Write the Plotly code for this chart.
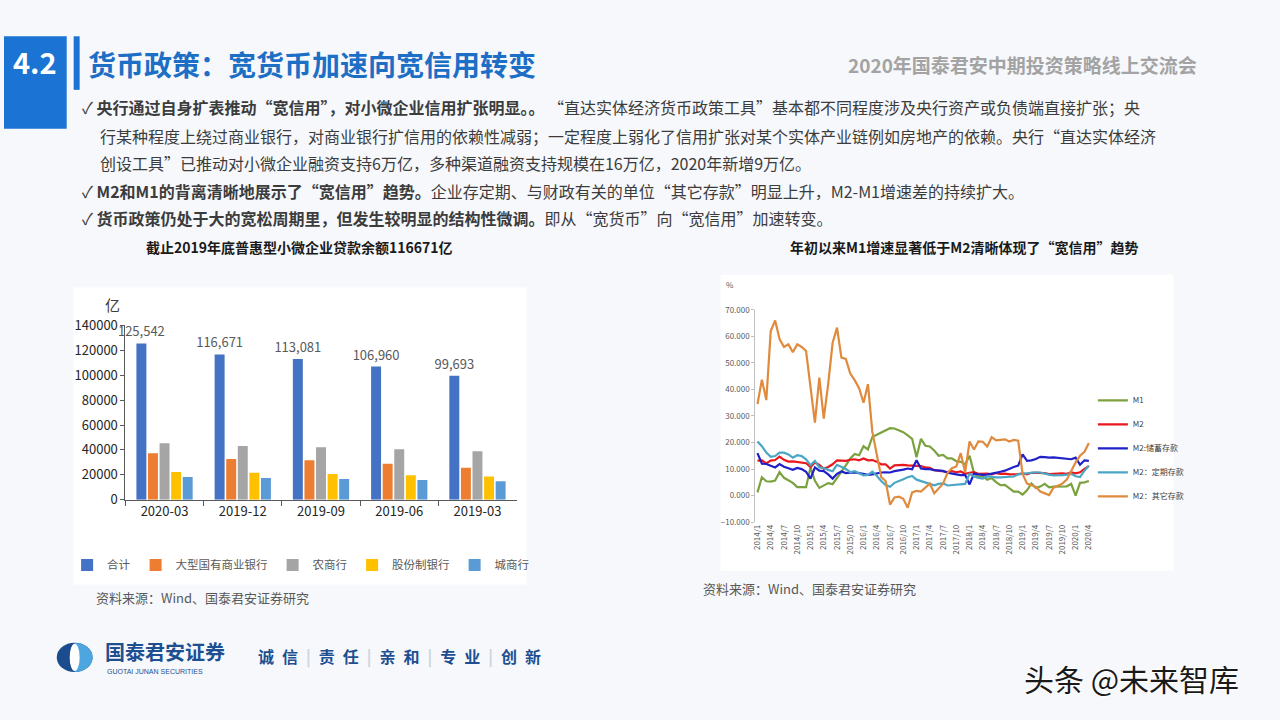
import math
import plotly.graph_objects as go

W, H = 1280, 720
def fx(x): return x / W
def fy(y): return 1 - y / H

CJK = "Noto Sans CJK SC, Microsoft YaHei, sans-serif"

# ---------------- left chart data ----------------
periods = ["2020-03", "2019-12", "2019-09", "2019-06", "2019-03"]
bank_names = ["合计", "大型国有商业银行", "农商行", "股份制银行", "城商行"]
loan_total = [125542, 116671, 113081, 106960, 99693]
loan_big_state = [37400, 32700, 31700, 29000, 25600]
loan_rural = [45300, 43200, 42100, 40600, 39000]
loan_joint_stock = [22300, 21700, 20700, 19600, 18600]
loan_city = [18300, 17500, 16700, 15900, 14900]
bank_colors = ["#4472C4", "#ED7D31", "#A5A5A5", "#FFC000", "#5B9BD5"]

# ---------------- right chart data (2014/1 - 2020/4, %) ----------------
months = [f"{y}/{m}" for y in range(2014, 2021) for m in range(1, 13)][:76]
month_ticks = months[::3]
m1 = [1.2, 6.9, 5.4, 5.3, 5.7, 8.9, 6.7, 5.7, 4.8, 3.2, 3.2, 3.2,
      10.6, 5.6, 2.9, 3.7, 4.7, 4.3, 6.6, 9.3, 11.4, 14.0, 15.7, 15.2,
      18.6, 17.4, 22.1, 22.9, 23.7, 24.6, 25.4, 25.3, 24.7, 23.9, 22.7, 21.4,
      14.5, 21.4, 18.8, 18.5, 17.0, 15.0, 15.3, 14.0, 14.0, 13.0, 12.7, 11.8,
      15.0, 8.5, 7.1, 7.2, 6.0, 6.6, 5.1, 3.9, 4.0, 2.7, 1.5, 1.5,
      0.4, 2.0, 4.6, 2.9, 3.4, 4.4, 3.1, 3.4, 3.4, 3.3, 3.5, 4.4,
      0.0, 4.8, 5.0, 5.5]
m2 = [13.2, 13.3, 12.1, 13.2, 13.4, 14.7, 13.5, 12.8, 12.9, 12.6, 12.3, 12.2,
      10.8, 12.5, 11.6, 10.1, 10.8, 11.8, 13.3, 13.3, 13.1, 13.5, 13.7, 13.3,
      14.0, 13.3, 13.4, 12.8, 11.8, 11.8, 10.2, 11.4, 11.5, 11.6, 11.4, 11.3,
      11.3, 11.1, 10.6, 10.5, 9.6, 9.4, 9.2, 8.9, 9.2, 8.8, 9.1, 8.2,
      8.6, 8.8, 8.2, 8.3, 8.3, 8.0, 8.5, 8.2, 8.3, 8.0, 8.0, 8.1,
      8.4, 8.0, 8.6, 8.5, 8.5, 8.5, 8.1, 8.2, 8.4, 8.4, 8.2, 8.7,
      8.4, 8.8, 10.1, 11.1]
m2_savings = [16.0, 12.0, 11.9, 11.3, 10.6, 11.9, 10.9, 10.3, 9.7, 10.4, 10.0, 9.0,
              6.4, 10.6, 9.4, 9.2, 8.0, 6.4, 8.2, 9.1, 8.5, 8.6, 8.7, 8.5,
              8.2, 7.8, 8.0, 8.4, 8.7, 8.8, 8.7, 9.2, 9.4, 9.8, 10.2, 9.9,
              13.3, 10.2, 10.0, 10.0, 9.6, 9.4, 9.3, 8.6, 8.4, 8.0, 7.7, 7.8,
              4.2, 8.3, 8.0, 7.8, 7.9, 8.2, 8.5, 9.0, 9.4, 10.2, 10.8, 11.3,
              15.5, 13.1, 13.3, 13.8, 14.6, 14.5, 14.3, 14.4, 14.2, 14.0, 13.9, 13.7,
              14.3, 11.6, 13.3, 13.1]
m2_time = [20.4, 18.6, 16.2, 14.6, 14.9, 16.2, 16.2, 15.5, 14.3, 15.2, 14.9, 13.7,
           11.5, 13.1, 10.6, 10.4, 9.7, 9.2, 11.6, 10.9, 10.0, 8.8, 9.2, 8.4,
           7.6, 7.8, 9.0, 7.5, 5.5, 4.0, 3.3, 4.8, 5.4, 6.2, 6.9, 7.4,
           6.0, 5.4, 5.0, 4.4, 3.9, 4.4, 4.6, 3.8, 3.9, 4.0, 4.2, 4.4,
           8.2, 7.2, 6.7, 6.4, 7.2, 7.0, 6.9, 6.9, 7.0, 7.0, 7.2, 8.0,
           8.2, 8.4, 8.6, 8.8, 8.7, 8.2, 7.9, 7.6, 7.6, 7.7, 7.9, 8.2,
           7.3, 7.0, 9.4, 11.3]
m2_other = [34.5, 43.7, 36.0, 62.0, 66.0, 59.0, 56.0, 57.0, 54.0, 57.0, 56.0, 54.5,
            41.0, 27.5, 44.5, 29.0, 42.0, 57.5, 63.3, 52.0, 51.5, 46.0, 43.5, 40.5,
            35.0, 42.0, 24.0, 16.0, 7.0, 5.5, -3.4, -0.7, -0.4, -1.2, -4.6, 1.2,
            1.8, 1.5, 3.0, 4.5, 0.9, 2.5, 4.5, 8.5, 10.3, 11.0, 16.0, 8.8,
            20.4, 17.4, 20.4, 20.3, 18.5, 22.0, 20.8, 21.0, 21.2, 20.4, 21.0, 20.7,
            8.2, 4.5, 3.8, 3.3, 1.5, 0.8, 0.2, 3.0, 3.8, 4.5, 6.0, 9.4,
            12.5, 15.0, 16.5, 19.8]
series_names = ["M1", "M2", "M2:储蓄存款", "M2：定期存款", "M2：其它存款"]
series_colors = ["#7BA23F", "#E8181C", "#2020C8", "#4AA6C4", "#DF8A3D"]

fig = go.Figure()

# ---- left bars ----
for name, vals, col in zip(bank_names,
                           [loan_total, loan_big_state, loan_rural, loan_joint_stock, loan_city],
                           bank_colors):
    fig.add_trace(go.Bar(
        x=periods, y=vals, name=name, marker=dict(color=col, line=dict(width=0)),
        xaxis="x", yaxis="y", legend="legend",
        texttemplate="%{y:,}" if name == "合计" else None,
        textposition="outside" if name == "合计" else "none",
        textfont=dict(size=13, color="#595959", family=CJK),
        constraintext="none", cliponaxis=False, hoverinfo="x+y+name"))

# ---- right lines ----
for name, vals, col in zip(series_names, [m1, m2, m2_savings, m2_time, m2_other], series_colors):
    fig.add_trace(go.Scatter(
        x=months, y=vals, name=name, mode="lines",
        line=dict(color=col, width=2.2), xaxis="x2", yaxis="y2",
        legend="legend2", legendgroup=name))

# ---------------- shapes ----------------
shapes = []
def rect(x0, y0, x1, y1, color, layer="below", line=None):
    shapes.append(dict(type="rect", xref="paper", yref="paper",
                       x0=fx(x0), x1=fx(x1), y0=fy(y1), y1=fy(y0),
                       fillcolor=color, line=dict(width=0) if line is None else line,
                       layer=layer))

rect(70, 285, 525, 590, "#ffffff")
rect(720, 272, 1175, 576, "#ffffff")
rect(0, 27, 63, 122, "#1B74D3")
rect(70, 27, 76, 82, "#1B74D3")

# logo
cx, cy, rx, ry = 71, 665, 18, 15
shapes.append(dict(type="circle", xref="paper", yref="paper",
                   x0=fx(cx - rx), x1=fx(cx + rx), y0=fy(cy + ry), y1=fy(cy - ry),
                   fillcolor="#1B4C8E", line=dict(width=0), layer="above"))
pts = []
for k in range(0, 31):
    a = -math.pi / 2 + math.pi * k / 30
    pts.append((cx + rx * math.cos(a), cy + ry * math.sin(a)))
path = "M " + " L ".join(f"{fx(px_):.5f},{fy(py_):.5f}" for px_, py_ in pts) + " Z"
shapes.append(dict(type="path", xref="paper", yref="paper", path=path,
                   fillcolor="#4DA6E0", line=dict(width=0), layer="above"))
shapes.append(dict(type="circle", xref="paper", yref="paper",
                   x0=fx(cx - 5), x1=fx(cx + 5), y0=fy(cy + 14), y1=fy(cy - 14),
                   fillcolor="#ffffff", line=dict(width=0), layer="above"))

# ---------------- annotations ----------------
ann = []
def text(x, y, s, size, color="#404040", xanchor="left", yanchor="middle", family=CJK, **kw):
    d = dict(xref="paper", yref="paper", x=fx(x), y=fy(y), text=s, showarrow=False,
             xanchor=xanchor, yanchor=yanchor,
             font=dict(size=size, color=color, family=family))
    d["font"].update(kw.pop("font_extra", {}))
    d.update(kw)
    ann.append(d)

text(31, 52, "<b>4.2</b>", 29, "#ffffff", xanchor="center")
text(82, 55, "<b>货币政策：宽货币加速向宽信用转变</b>", 28, "#1D6FC6")
text(1201, 56, "<b>2020年国泰君安中期投资策略线上交流会</b>", 19, "#A3A3A3", xanchor="right")

bullets = [
    (76, 100, "✓ <b>央行通过自身扩表推动“宽信用”，对小微企业信用扩张明显。。</b> “直达实体经济货币政策工具”基本都不同程度涉及央行资产或负债端直接扩张；央"),
    (94, 129, "行某种程度上绕过商业银行，对商业银行扩信用的依赖性减弱；一定程度上弱化了信用扩张对某个实体产业链例如房地产的依赖。央行“直达实体经济"),
    (94, 157, "创设工具”已推动对小微企业融资支持6万亿，多种渠道融资支持规模在16万亿，2020年新增9万亿。"),
    (76, 186, "✓ <b>M2和M1的背离清晰地展示了“宽信用”趋势。</b>企业存定期、与财政有关的单位“其它存款”明显上升，M2-M1增速差的持续扩大。"),
    (76, 214, "✓ <b>货币政策仍处于大的宽松周期里，但发生较明显的结构性微调。</b>即从“宽货币”向“宽信用”加速转变。"),
]
for x, y, s in bullets:
    text(x, y, s, 16, "#3C3C3C")

text(297, 243, "<b>截止2019年底普惠型小微企业贷款余额116671亿</b>", 14, "#1a1a1a", xanchor="center")
text(965, 243, "<b>年初以来M1增速显著低于M2清晰体现了“宽信用”趋势</b>", 14, "#1a1a1a", xanchor="center")
text(109, 302, "亿", 15, "#404040", xanchor="center")
text(729, 282, "%", 8, "#595959", xanchor="center")
text(90, 603, "资料来源：Wind、国泰君安证券研究", 13, "#595959")
text(700, 594, "资料来源：Wind、国泰君安证券研究", 13, "#595959")

text(99, 659, "<b>国泰君安证券</b>", 20, "#1D4F91")
text(101, 679, "GUOTAI JUNAN SECURITIES", 7, "#1D4F91", family="Liberation Sans Narrow, Liberation Sans, sans-serif")
sep = "<span style='color:#C9D3DF'>|</span>"
sp = "\u2002"
motto = f"{sp}{sep}{sp}".join(f"{a}{sp}{b}" for a, b in ["诚信", "责任", "亲和", "专业", "创新"])
text(253, 664, f"<b>{motto}</b>", 16, "#1D4F91")
text(1243, 686, "头条 @未来智库", 30, "#1a1a1a", xanchor="right",
     font_extra=dict(shadow="1px 1px 1px #ffffff, -1px -1px 1px #ffffff"))

fig.update_layout(
    width=W, height=H, autosize=False,
    margin=dict(l=0, r=0, t=0, b=0),
    paper_bgcolor="#F6F8FB", plot_bgcolor="rgba(0,0,0,0)",
    font=dict(family=CJK, color="#404040"),
    barmode="group", bargap=0.26, bargroupgap=0.14,
    shapes=shapes, annotations=ann, showlegend=True,
    xaxis=dict(domain=[fx(122), fx(515)], anchor="y", type="category",
               showline=True, linecolor="#595959", linewidth=1,
               ticks="outside", tickson="boundaries", ticklen=5, tickcolor="#595959",
               tickfont=dict(size=13, color="#262626"), showgrid=False, zeroline=False),
    yaxis=dict(domain=[fy(503), fy(324)], anchor="x", range=[0, 140000], dtick=20000,
               tickformat="d", showline=True, linecolor="#595959", linewidth=1,
               ticks="outside", ticklen=4, tickcolor="#595959",
               tickfont=dict(size=13, color="#262626"), showgrid=False, zeroline=False),
    xaxis2=dict(domain=[fx(754.8), fx(1092.2)], anchor="y2", type="category",
                range=[-0.5, 75.5], tickmode="array", tickvals=month_ticks,
                tickangle=-90, tickfont=dict(size=8, color="#595959"),
                showline=False, ticks="", showgrid=False, zeroline=False),
    yaxis2=dict(domain=[fy(526), fy(308)], anchor="x2", range=[-10, 70], dtick=10,
                tickformat=".3f", showline=True, linecolor="#BFBFBF", linewidth=1,
                ticks="outside", ticklen=3, tickcolor="#BFBFBF",
                tickfont=dict(size=8, color="#595959"), showgrid=False, zeroline=False),
    xaxis3=dict(overlaying="x2", anchor="free", position=fy(499), type="linear",
                range=[-0.5, 75.5], tick0=0, dtick=1, showline=True,
                linecolor="#BFBFBF", linewidth=1, ticks="outside", ticklen=3,
                tickcolor="#BFBFBF", showticklabels=False, showgrid=False, zeroline=False),
    legend=dict(orientation="h", x=fx(298), xanchor="center", y=fy(570), yanchor="middle",
                font=dict(size=11.5, color="#595959"), bgcolor="rgba(0,0,0,0)",
                itemwidth=30, traceorder="normal"),
    legend2=dict(orientation="v", x=fx(1094), xanchor="left", y=fy(386), yanchor="top",
                 font=dict(size=8, color="#404040"), bgcolor="rgba(0,0,0,0)",
                 itemwidth=30, tracegroupgap=5),
)

fig.write_html("out.html", config={"displayModeBar": False},
               post_script="document.body.style.margin='0';")
